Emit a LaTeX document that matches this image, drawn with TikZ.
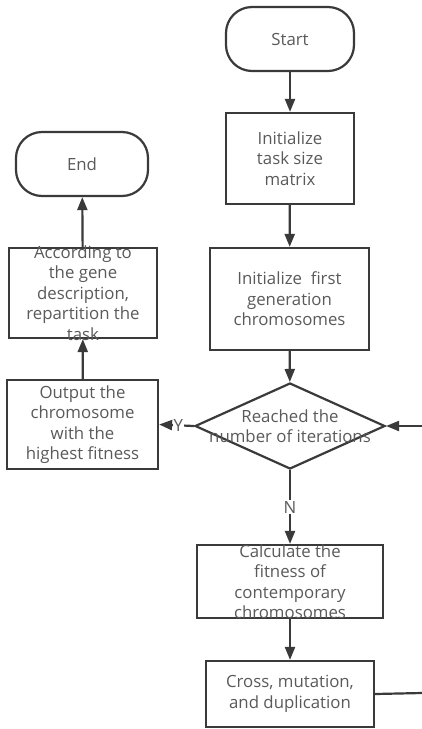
\documentclass[tikz,border=0pt]{standalone}
\usepackage{fontspec}
\setmainfont{Open Sans}
\usetikzlibrary{arrows.meta,shapes.geometric}
\definecolor{edgec}{HTML}{3A3A3A}
\definecolor{textc}{HTML}{5A5A5A}
\tikzset{
  base/.style={draw=edgec, line width=2.2pt, fill=white, inner sep=0pt},
  term/.style={base, rounded corners=26pt},
  boxs/.style={base},
  txt/.style={align=center, text=textc, inner sep=0pt, font=\fontsize{16.8}{20.5}\selectfont},
  conn/.style={draw=edgec, line width=2.2pt, -{Triangle[width=10pt,length=13pt]}},
  plain/.style={draw=edgec, line width=2.2pt},
  lab/.style={text=textc, fill=white, inner sep=1pt, font=\fontsize{16.8}{18}\selectfont},
}
\begin{document}
\begin{tikzpicture}[x=1pt,y=-1pt]
\useasboundingbox[fill=white] (0,0) rectangle (422,729);
% right column
\node[term, minimum width=128pt, minimum height=64pt] (start) at (290,39) {};
\node[txt] (startt) at (start.center) {Start};
\node[boxs, minimum width=128pt, minimum height=91pt] (init) at (290,158.5) {};
\node[txt] (initt) at (init.center) {Initialize\\task size\\matrix};
\node[boxs, minimum width=159pt, minimum height=102pt] (gen) at (289.5,299) {};
\node[txt] (gent) at (gen.center) {Initialize~~first\\generation\\chromosomes};
\node[base, diamond, minimum width=190pt, minimum height=86pt] (dec) at (290,426) {};
\node[txt] (dect) at (dec.center) {Reached the\\number of iterations};
\node[boxs, minimum width=186pt, minimum height=73pt] (calc) at (290,581.5) {};
\node[txt] (calct) at (calc.center) {Calculate the\\fitness of\\contemporary\\chromosomes};
\node[boxs, minimum width=168pt, minimum height=66pt] (cross) at (290,694) {};
\node[txt] (crosst) at (cross.center) {Cross, mutation,\\and duplication};
% left column
\node[term, minimum width=132pt, minimum height=64pt] (end) at (82,164) {};
\node[txt] (endt) at (end.center) {End};
\node[boxs, minimum width=148pt, minimum height=90pt] (part) at (83,293) {};
\node[txt] (partt) at (part.center) {According to\\the gene\\description,\\repartition the\\task};
\node[boxs, minimum width=151pt, minimum height=89pt] (out) at (82.5,424.5) {};
\node[txt] (outt) at (out.center) {Output the\\chromosome\\with the\\highest fitness};
% connectors
\draw[conn] (start) -- (init);
\draw[conn] (init) -- (gen);
\draw[conn] (gen) -- (dec);
\draw[conn] (dec.south) -- node[lab, pos=0.5] (nl) {N} (calc.north);
\draw[conn] (calc) -- (cross);
\draw[conn] (dec.west) -- node[lab, pos=0.45] (yl) {Y} (out.east);
\draw[conn] (out) -- (part);
\draw[conn] (part) -- (end);
\coordinate (loopa) at (422,693);
\coordinate (loopb) at (422,426);
\draw[plain] (cross.east) -- (loopa);
\draw[conn] (loopb) -- (dec.east);
\end{tikzpicture}
\end{document}
